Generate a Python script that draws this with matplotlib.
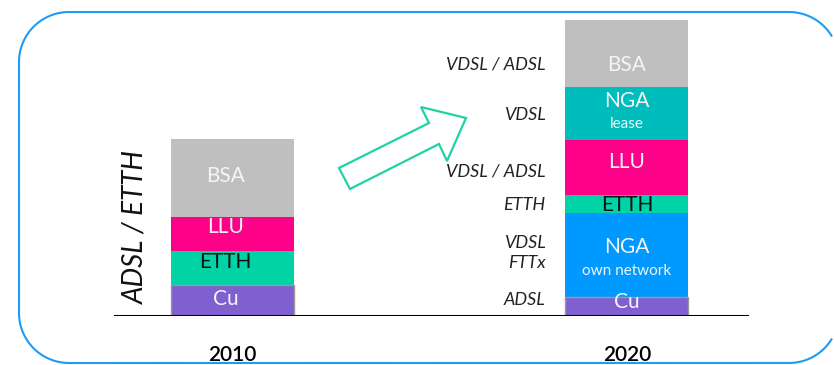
import numpy as np
import matplotlib.pyplot as plt
from matplotlib.patches import Polygon

plt.rcParams['font.family'] = ['Lato', 'DejaVu Sans']

years = ["2010", "2020"]

# stacked segments, bottom to top
names_2010 = ["Cu", "ETTH", "LLU", "BSA"]
values_2010 = [3.1, 3.4, 3.4, 7.8]
colors_2010 = ["#8060d0", "#00d4a6", "#ff0088", "#bfbfbf"]

names_2020 = ["Cu", "NGA", "ETTH", "LLU", "NGA", "BSA"]
subnames_2020 = ["", "own network", "", "", "lease", ""]
values_2020 = [1.9, 8.4, 1.8, 5.5, 5.3, 6.7]
colors_2020 = ["#8060d0", "#0099ff", "#00d4a6", "#ff0088", "#00bdbd", "#bfbfbf"]

tech_2010 = "ADSL / ETTH"
tech_2020 = ["ADSL", "VDSL\nFTTx", "ETTH", "VDSL / ADSL", "VDSL", "VDSL / ADSL"]

W, H = 834, 365
fig = plt.figure(figsize=(W / 100, H / 100), dpi=100)

# frame and arrow live in a pixel-space overlay
deco = fig.add_axes([0, 0, 1, 1], zorder=0)
deco.set_xlim(0, W)
deco.set_ylim(H, 0)
deco.axis('off')


def frame_outline(x0, y0, x1, y1, r, xmax):
    # rounded rectangle traced from the top-right to the bottom-right,
    # stopping where it leaves the canvas on the right
    a = np.degrees(np.arccos((xmax - (x1 - r)) / r))
    pts = []
    for cx, cy, t0, t1 in [(x1 - r, y0 + r, a, 90), (x0 + r, y0 + r, 90, 180),
                           (x0 + r, y1 - r, 180, 270), (x1 - r, y1 - r, 270, 360 - a)]:
        t = np.radians(np.linspace(t0, t1, 40))
        pts.append(np.column_stack([cx + r * np.cos(t), cy - r * np.sin(t)]))
    return np.vstack(pts)


fr = frame_outline(19, 12, 839, 363, 50, W - 2)
deco.plot(fr[:, 0], fr[:, 1], color="#1e9bf5", lw=1.5, solid_capstyle='butt')
deco.add_patch(Polygon([(339, 168), (429, 123), (421, 107), (466, 118),
                        (447, 161), (439, 144), (350, 189)],
                       closed=True, fill=False, ec="#1dd3a7", lw=1.6))

# chart axes: baseline at y=316 px, 10 px per unit
ax = fig.add_axes([0, 49 / H, 1, 300 / H], zorder=1)
ax.set_facecolor('none')
ax.set_ylim(0, 30)
ax.set_xlim(-0.589, 1.525)
for s in ax.spines.values():
    s.set_visible(False)
ax.set_yticks([])
ax.set_xticks([0, 1], years)
ax.tick_params(axis='x', length=0, pad=21, labelsize=15)
for t in ax.get_xticklabels():
    t.set_fontweight('semibold')
ax.axhline(0, xmin=115 / W, xmax=747 / W, color='black', lw=2.2, zorder=5)

bw = 0.312
px = 0.1  # data units per pixel on y


def stack(x, values, colors):
    bottoms = []
    b = 0
    for v, c in zip(values, colors):
        ax.bar(x, v, bottom=b, width=bw, color=c, zorder=2)
        bottoms.append(b)
        b += v
    return bottoms


b10 = stack(0, values_2010, colors_2010)
b20 = stack(1, values_2020, colors_2020)

# grey outline on the copper segments
for x, v in [(0, values_2010[0]), (1, values_2020[0])]:
    ax.bar(x, v, width=bw, fill=False, ec="#999999", lw=1.0, zorder=3)

txt = dict(ha='center', va='center', zorder=4)

# 2010 labels
off_2010 = [1.5, 6.5, 7, 2]
for name, v, b, c, dy in zip(names_2010, values_2010, b10, colors_2010, off_2010):
    col = '#111111' if name == "ETTH" else '#f4f4f4'
    ax.text(0 - 7 / 394.5, b + v / 2 + dy * px, name, color=col, fontsize=15, **txt)

# 2020 labels
off_2020 = [4.5, 8, -1, 5, 12.5, -11.5]
sub_off = [0, -16, 0, 0, -10.5, 0]
for name, sub, v, b, dy, sdy in zip(names_2020, subnames_2020, values_2020, b20,
                                    off_2020, sub_off):
    col = '#111111' if name == "ETTH" else '#f4f4f4'
    ax.text(1, b + v / 2 + dy * px, name, color=col, fontsize=15, **txt)
    if sub:
        ax.text(1, b + v / 2 + sdy * px, sub, color='#f4f4f4', fontsize=11, **txt)

# technology annotations left of the 2020 bar
tech_off = [6.5, 2, -1, -4.5, -1.5, -10.5]
for lab, v, b, dy in zip(tech_2020, values_2020, b20, tech_off):
    ax.text(1 - bw / 2 - 20 / 394.5, b + v / 2 + dy * px, lab, ha='right', va='center',
            style='italic', fontsize=13, color='#222222', linespacing=1.3)

ax.text(-0.298 + 21 / 394.5, sum(values_2010) / 2, tech_2010,
        rotation=90, ha='center', va='center', style='italic',
        fontsize=20, color='#111111')

fig.savefig('out.png', dpi=100)
